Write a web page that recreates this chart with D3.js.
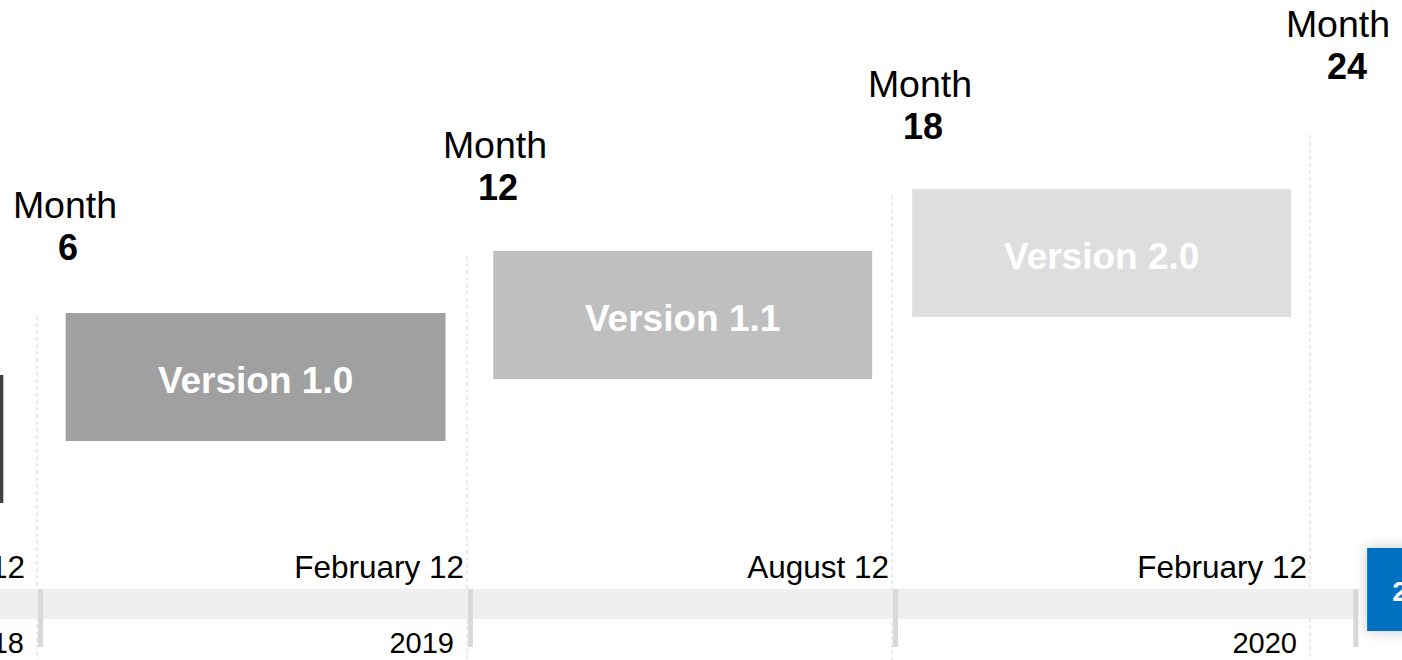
<!DOCTYPE html>
<meta charset="utf-8">
<script src="https://d3js.org/d3.v7.min.js"></script>
<style>
  body { margin: 0; background: #fff; }
  text { font-family: "Liberation Sans", Arial, sans-serif; }
</style>
<div id="timeline"></div>
<script>
    // milestones (months since start)
    const months = [6, 12, 18, 24];
    const monthLevels = [1, 2, 3, 4];
    const dateLabels = ["August 12", "February 12", "August 12", "February 12"];
    const yearLabels = ["2018", "2019", "", "2020"];

    // release bars
    const versions = ["", "Version 1.0", "Version 1.1", "Version 2.0"];
    const versionStart = [0.2, 6.4, 12.37, 18.29];
    const versionEnd = [5.53, 11.7, 17.72, 23.73];
    const versionLevels = [0, 1, 2, 3];
    const versionColors = ["#404040", "#a0a0a0", "#bfbfbf", "#dedede"];

    const bandEnd = 24.65;
    const nextLabel = "2021";
    const nextStart = 24.82;

    const width = 1402, height = 660;

    const svg = d3.select("#timeline")
      .append("svg")
        .attr("width", width)
        .attr("height", height);

    const defs = svg.append("defs");
    const f = defs.append("filter").attr("id", "shadow")
        .attr("x", "-50%").attr("y", "-50%").attr("width", "200%").attr("height", "200%");
    f.append("feDropShadow")
        .attr("dx", 0).attr("dy", 0).attr("stdDeviation", 7)
        .attr("flood-color", "#000").attr("flood-opacity", 0.22);

    // scales
    const x = d3.scaleLinear()
        .domain([6, 12, 18, 24])
        .range([37, 467, 892, 1310]);
    const barY = d3.scaleLinear()
        .domain([0, 3])
        .range([375, 189]);
    const labelY = d3.scaleLinear()
        .domain([1, 4])
        .range([218, 37]);
    const barH = 128;

    // dashed guide lines
    svg.append("g")
      .selectAll("line")
      .data(months)
      .join("line")
        .attr("x1", d => x(d)).attr("x2", d => x(d))
        .attr("y1", (d, i) => labelY(monthLevels[i]) + 98)
        .attr("y2", height)
        .attr("stroke", "#e4e4e4")
        .attr("stroke-width", 1.5)
        .attr("stroke-dasharray", "4,3");

    // timeline band
    svg.append("rect")
        .attr("x", -5).attr("y", 589)
        .attr("width", x(bandEnd) + 5).attr("height", 30)
        .attr("fill", "#efefef");

    svg.append("g")
      .selectAll("rect")
      .data(months.slice(0, 3).concat([bandEnd]))
      .join("rect")
        .attr("x", (d, i) => i < 3 ? x(d) + 1 : x(d) - 2)
        .attr("y", 589)
        .attr("width", 5).attr("height", 58)
        .attr("fill", "#d9d9d9");

    // date labels above band
    svg.append("g")
      .selectAll("text")
      .data(dateLabels)
      .join("text")
        .attr("x", (d, i) => x(months[i]) - (i === 0 ? 12 : 3))
        .attr("y", 578)
        .attr("text-anchor", "end")
        .attr("font-size", 31.5)
        .attr("fill", "#000")
        .text(d => d);

    // year labels below band
    svg.append("g")
      .selectAll("text")
      .data(yearLabels)
      .join("text")
        .attr("x", (d, i) => x(months[i]) - 13)
        .attr("y", 653)
        .attr("text-anchor", "end")
        .attr("font-size", 29)
        .attr("fill", "#000")
        .text(d => d);

    // version bars
    const bars = svg.append("g")
      .selectAll("g")
      .data(versions)
      .join("g");
    bars.append("rect")
        .attr("x", (d, i) => x(versionStart[i]))
        .attr("y", (d, i) => barY(versionLevels[i]))
        .attr("width", (d, i) => x(versionEnd[i]) - x(versionStart[i]))
        .attr("height", barH)
        .attr("fill", (d, i) => versionColors[i]);
    bars.append("text")
        .attr("x", (d, i) => (x(versionStart[i]) + x(versionEnd[i])) / 2)
        .attr("y", (d, i) => barY(versionLevels[i]) + barH / 2 + 16)
        .attr("text-anchor", "middle")
        .attr("font-size", 37)
        .attr("font-weight", "bold")
        .attr("fill", "#fff")
        .text(d => d);

    // month labels
    const ml = svg.append("g")
      .selectAll("text")
      .data(months)
      .join("text")
        .attr("text-anchor", "middle")
        .attr("fill", "#000");
    ml.append("tspan")
        .attr("x", d => x(d) + 28)
        .attr("y", (d, i) => labelY(monthLevels[i]))
        .attr("font-size", 37.5)
        .text("Month");
    ml.append("tspan")
        .attr("x", (d, i) => x(d) + 31 + (i === 3 ? 6 : 0))
        .attr("dy", 42)
        .attr("font-size", 36)
        .attr("font-weight", "bold")
        .text(d => d);

    // next milestone box (cut off at edge)
    svg.append("rect")
        .attr("x", x(nextStart)).attr("y", 548)
        .attr("width", 120).attr("height", 83)
        .attr("fill", "#0070c0")
        .attr("filter", "url(#shadow)");
    svg.append("text")
        .attr("x", x(nextStart) + 25).attr("y", 601)
        .attr("font-size", 28)
        .attr("font-weight", "bold")
        .attr("fill", "#fff")
        .text(nextLabel);
</script>
